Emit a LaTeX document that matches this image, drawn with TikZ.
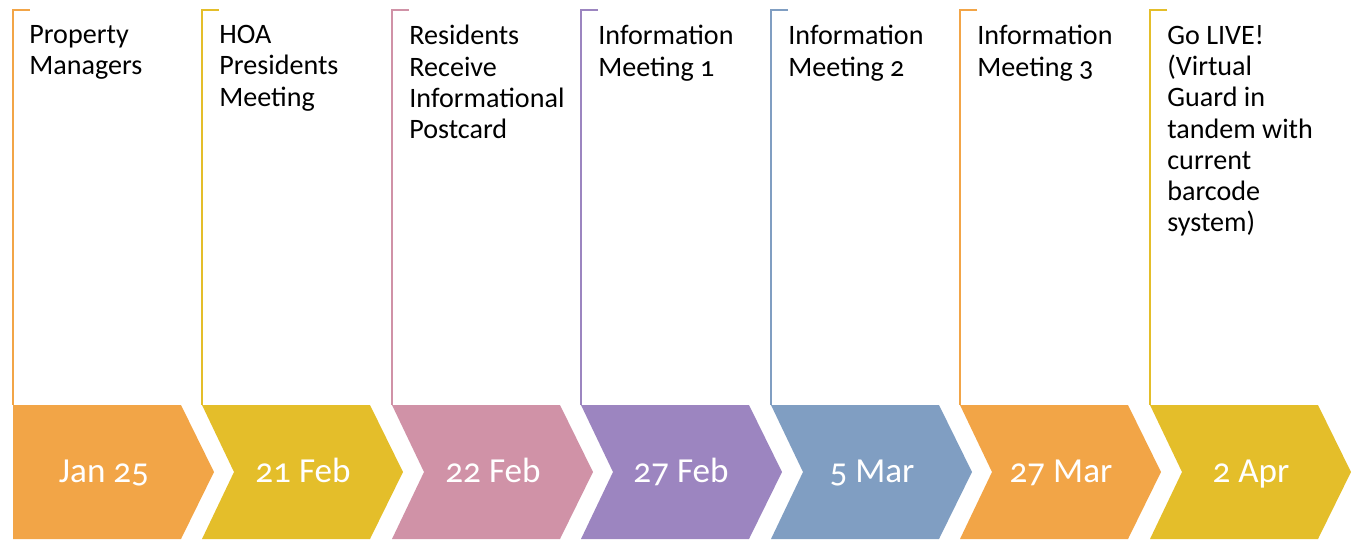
\documentclass[tikz,border=0pt]{standalone}
\usepackage{fontspec}
\setmainfont{Carlito}[Numbers=OldStyle]
\definecolor{stepOrange}{HTML}{F2A547}
\definecolor{stepYellow}{HTML}{E4BE2A}
\definecolor{stepPink}{HTML}{D092A7}
\definecolor{stepPurple}{HTML}{9C85C0}
\definecolor{stepBlue}{HTML}{809EC2}
\tikzset{
  bracket/.style={line width=1.2pt},
  event/.style={anchor=north west, inner sep=0pt, align=left, text=black,
    font=\fontsize{16}{17.8}\selectfont},
  date/.style={anchor=base, inner sep=0pt, text=white,
    font=\fontsize{20}{24}\selectfont}
}
\begin{document}
\begin{tikzpicture}[x=0.02cm, y=-0.02cm]
    \useasboundingbox (0,0) rectangle (1357,539);

    % Jan 25
    \fill[stepOrange] (13,405) -- (181,405) -- (214,472) -- (181,539) -- (13,539) -- cycle;
    \draw[bracket, stepOrange] (30,10) -- (13,10) -- (13,405);
    \node[event] (managers) at (29,25) {Property\\Managers};
    \node[date] (jan25) at (104,482) {Jan 25};

    % 21 Feb
    \fill[stepYellow] (202,405) -- (370,405) -- (403,472) -- (370,539) -- (202,539) -- (234,472) -- cycle;
    \draw[bracket, stepYellow] (219,10) -- (202,10) -- (202,405);
    \node[event] (presidents) at (219,25) {HOA\\Presidents\\Meeting};
    \node[date] (feb21) at (303,482) {21 Feb};

    % 22 Feb
    \fill[stepPink] (392,405) -- (560,405) -- (593,472) -- (560,539) -- (392,539) -- (424,472) -- cycle;
    \draw[bracket, stepPink] (409,10) -- (392,10) -- (392,405);
    \node[event] (postcard) at (409,25) {Residents\\Receive\\Informational\\Postcard};
    \node[date] (feb22) at (493,482) {22 Feb};

    % 27 Feb
    \fill[stepPurple] (581,405) -- (749,405) -- (782,472) -- (749,539) -- (581,539) -- (613,472) -- cycle;
    \draw[bracket, stepPurple] (598,10) -- (581,10) -- (581,405);
    \node[event] (meeting1) at (598,25) {Information\\Meeting 1};
    \node[date] (feb27) at (681,482) {27 Feb};

    % 5 Mar
    \fill[stepBlue] (771,405) -- (939,405) -- (972,472) -- (939,539) -- (771,539) -- (803,472) -- cycle;
    \draw[bracket, stepBlue] (788,10) -- (771,10) -- (771,405);
    \node[event] (meeting2) at (788,25) {Information\\Meeting 2};
    \node[date] (mar5) at (872,482) {5 Mar};

    % 27 Mar
    \fill[stepOrange] (960,405) -- (1128,405) -- (1161,472) -- (1128,539) -- (960,539) -- (992,472) -- cycle;
    \draw[bracket, stepOrange] (977,10) -- (960,10) -- (960,405);
    \node[event] (meeting3) at (977,25) {Information\\Meeting 3};
    \node[date] (mar27) at (1061,482) {27 Mar};

    % 2 Apr
    \fill[stepYellow] (1150,405) -- (1318,405) -- (1351,472) -- (1318,539) -- (1150,539) -- (1182,472) -- cycle;
    \draw[bracket, stepYellow] (1167,10) -- (1150,10) -- (1150,405);
    \node[event] (golive) at (1167,25) {Go LIVE!\\(Virtual\\Guard in\\tandem with\\current\\barcode\\system)};
    \node[date] (apr2) at (1251,482) {2 Apr};
\end{tikzpicture}
\end{document}
